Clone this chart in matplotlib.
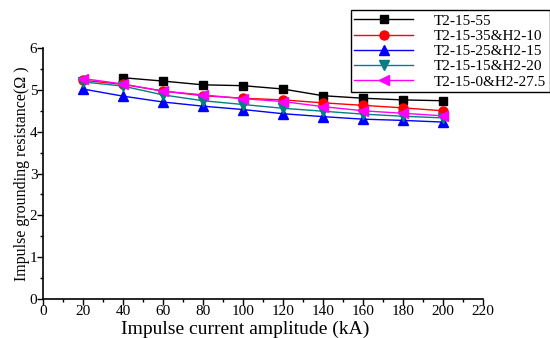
import matplotlib
matplotlib.use("Agg")
import matplotlib.pyplot as plt
from matplotlib.ticker import MultipleLocator

# impulse current amplitude (kA)
current = [20, 40, 60, 80, 100, 120, 140, 160, 180, 200]

# impulse grounding resistance (ohm); T2-15-55 has no point at 20 kA
r_t2_15_55 = [5.29, 5.21, 5.12, 5.10, 5.02, 4.86, 4.80, 4.76, 4.74]
r_t2_15_35_h2_10 = [5.23, 5.13, 4.97, 4.86, 4.80, 4.76, 4.69, 4.63, 4.57, 4.50]
r_t2_15_25_h2_15 = [5.02, 4.85, 4.71, 4.61, 4.53, 4.43, 4.36, 4.30, 4.27, 4.23]
r_t2_15_15_h2_20 = [5.19, 5.09, 4.88, 4.74, 4.65, 4.56, 4.49, 4.42, 4.37, 4.33]
r_t2_15_0_h2_275 = [5.27, 5.14, 4.97, 4.88, 4.79, 4.72, 4.60, 4.50, 4.44, 4.38]

labels = ["T2-15-55", "T2-15-35&H2-10", "T2-15-25&H2-15",
          "T2-15-15&H2-20", "T2-15-0&H2-27.5"]

plt.rcParams["font.family"] = ["Liberation Serif", "DejaVu Serif"]

fig = plt.figure(figsize=(5.5, 3.38), dpi=100)
ax = fig.add_axes([0.078, 0.115, 0.80, 0.743])

ax.plot(current[1:], r_t2_15_55, color="black", marker="s", ms=6, lw=1,
        label=labels[0])
ax.plot(current, r_t2_15_35_h2_10, color="red", marker="o", ms=6.5, lw=1,
        label=labels[1])
ax.plot(current, r_t2_15_25_h2_15, color="blue", marker="^", ms=7, lw=1,
        label=labels[2])
ax.plot(current, r_t2_15_15_h2_20, color="#008080", marker="v", ms=7, lw=1,
        label=labels[3])
ax.plot(current, r_t2_15_0_h2_275, color="magenta", marker="<", ms=7, lw=1,
        label=labels[4])

ax.set_xlim(0, 220)
ax.set_ylim(0, 6)
ax.xaxis.set_major_locator(MultipleLocator(20))
ax.xaxis.set_minor_locator(MultipleLocator(10))
ax.yaxis.set_major_locator(MultipleLocator(1))
ax.yaxis.set_minor_locator(MultipleLocator(0.5))
ax.tick_params(which="major", direction="out", length=4, width=1,
               labelsize=11, pad=0)
ax.tick_params(which="minor", direction="out", length=2.5, width=1)
ax.spines["top"].set_visible(False)
ax.spines["right"].set_visible(False)
ax.spines["left"].set_linewidth(1.2)
ax.spines["bottom"].set_linewidth(1.2)

ax.set_xlabel("Impulse current amplitude (kA)", fontsize=14, labelpad=0)
ax.xaxis.set_label_coords(0.46, -0.085)
ax.set_ylabel("Impulse grounding resistance(Ω )", fontsize=11.5, labelpad=0)

fig.legend(loc="upper right", bbox_to_anchor=(1.0, 0.97), fontsize=11,
           frameon=True, fancybox=False, edgecolor="black", framealpha=1,
           handlelength=3.8, labelspacing=0.1, borderpad=0.25,
           handletextpad=1.4, borderaxespad=0)

fig.savefig("out.png", dpi=100)
